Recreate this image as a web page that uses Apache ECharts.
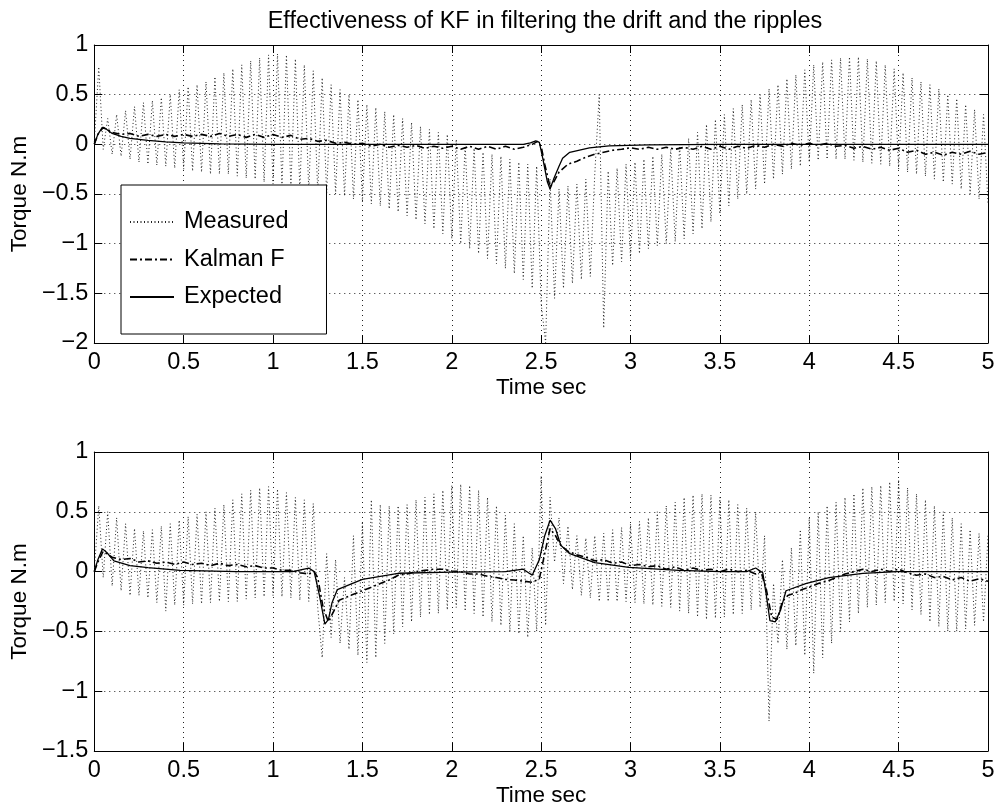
<!DOCTYPE html>
<html>
<head>
<meta charset="utf-8">
<script src="https://cdn.jsdelivr.net/npm/echarts@6/dist/echarts.min.js"></script>
<style>
html,body{margin:0;padding:0;background:#fff;}
#chart{width:998px;height:811px;}
</style>
</head>
<body>
<div id="chart"></div>
<script>
// ---------- data ----------
const titleText = 'Effectiveness of KF in filtering the drift and the ripples';
const seriesNames = ['Measured', 'Kalman F', 'Expected'];
const xTicks = [0, 0.5, 1, 1.5, 2, 2.5, 3, 3.5, 4, 4.5, 5];
const yTicksTop = [-2, -1.5, -1, -0.5, 0, 0.5, 1];
const yTicksBottom = [-1.5, -1, -0.5, 0, 0.5, 1];

// measured torque sampled every 0.025 s (201 samples, 0..5 s)
const measuredStep = 0.025;
const measuredTop = [
  0.02, 0.78, -0.05, 0.26, -0.1, 0.3, -0.12, 0.34, -0.15, 0.38,
  -0.18, 0.42, -0.2, 0.44, -0.21, 0.47, -0.22, 0.5, -0.24, 0.55,
  -0.25, 0.58, -0.27, 0.6, -0.28, 0.63, -0.3, 0.68, -0.3, 0.72,
  -0.3, 0.76, -0.32, 0.8, -0.34, 0.84, -0.35, 0.87, -0.38, 0.9,
  -0.4, 0.91, -0.42, 0.9, -0.44, 0.86, -0.46, 0.8, -0.47, 0.74,
  -0.48, 0.67, -0.5, 0.6, -0.5, 0.55, -0.52, 0.5, -0.55, 0.45,
  -0.58, 0.4, -0.6, 0.37, -0.62, 0.33, -0.65, 0.3, -0.68, 0.26,
  -0.72, 0.22, -0.76, 0.18, -0.8, 0.15, -0.85, 0.12, -0.9, 0.1,
  -0.95, 0.05, -1.0, 0.0, -1.05, -0.04, -1.1, -0.08, -1.15, -0.1,
  -1.2, -0.12, -1.25, -0.15, -1.3, -0.18, -1.36, -0.2, -1.45, -0.22,
  -1.6, -2.0, -0.35, -1.55, -0.45, -1.45, -0.42, -1.4, -0.4, -1.36,
  -0.35, -1.33, -0.3, 0.5, -1.85, -0.27, -1.22, -0.24, -1.18, -0.2,
  -1.15, -0.18, -1.1, -0.15, -1.05, -0.12, -1.02, -0.1, -1.0, -0.05,
  -0.98, 0.0, -0.95, 0.06, -0.9, 0.12, -0.85, 0.2, -0.78, 0.25,
  -0.7, 0.3, -0.62, 0.36, -0.55, 0.4, -0.5, 0.45, -0.45, 0.5,
  -0.4, 0.56, -0.35, 0.6, -0.3, 0.66, -0.25, 0.7, -0.22, 0.75,
  -0.18, 0.8, -0.16, 0.83, -0.15, 0.85, -0.15, 0.87, -0.15, 0.88,
  -0.16, 0.88, -0.18, 0.86, -0.19, 0.84, -0.2, 0.8, -0.22, 0.76,
  -0.25, 0.72, -0.28, 0.67, -0.3, 0.63, -0.32, 0.6, -0.35, 0.56,
  -0.38, 0.5, -0.4, 0.46, -0.45, 0.4, -0.5, 0.35, -0.55, 0.3,
  -0.6
];
const measuredBottom = [
  0.0, 0.55, -0.05, 0.5, -0.12, 0.45, -0.16, 0.4, -0.2, 0.36,
  -0.2, 0.34, -0.22, 0.35, -0.26, 0.38, -0.33, 0.4, -0.28, 0.43,
  -0.28, 0.46, -0.27, 0.48, -0.27, 0.5, -0.26, 0.53, -0.25, 0.56,
  -0.25, 0.6, -0.25, 0.65, -0.23, 0.68, -0.22, 0.7, -0.21, 0.71,
  -0.2, 0.69, -0.21, 0.66, -0.22, 0.62, -0.24, 0.6, -0.25, 0.57,
  -0.3, -0.72, 0.15, -0.55, 0.1, -0.6, -0.05, -0.65, 0.3, -0.7,
  0.42, -0.76, 0.6, -0.72, 0.56, -0.6, 0.55, -0.52, 0.55, -0.46,
  0.56, -0.42, 0.6, -0.38, 0.62, -0.36, 0.65, -0.35, 0.68, -0.32,
  0.72, -0.3, 0.73, -0.33, 0.72, -0.35, 0.68, -0.38, 0.62, -0.42,
  0.55, -0.45, 0.47, -0.5, 0.4, -0.52, 0.3, -0.55, 0.2, -0.5,
  0.8, -0.45, 0.62, 0.08, 0.45, -0.1, 0.38, -0.15, 0.3, -0.2,
  0.28, -0.22, 0.3, -0.25, 0.32, -0.25, 0.35, -0.25, 0.37, -0.25,
  0.4, -0.26, 0.42, -0.27, 0.45, -0.28, 0.5, -0.29, 0.55, -0.3,
  0.58, -0.33, 0.62, -0.35, 0.64, -0.38, 0.65, -0.4, 0.64, -0.39,
  0.62, -0.38, 0.6, -0.36, 0.56, -0.35, 0.53, -0.32, 0.5, -0.3,
  0.3, -1.25, -0.1, -0.6, 0.1, -0.65, 0.2, -0.62, 0.35, -0.7,
  0.45, -0.85, 0.5, -0.72, 0.55, -0.6, 0.58, -0.5, 0.62, -0.42,
  0.65, -0.35, 0.7, -0.3, 0.71, -0.28, 0.72, -0.26, 0.75, -0.25,
  0.77, -0.27, 0.7, -0.32, 0.65, -0.36, 0.6, -0.42, 0.55, -0.46,
  0.5, -0.5, 0.45, -0.5, 0.4, -0.48, 0.35, -0.45, 0.32, -0.42,
  0.3
];

// Kalman filter estimate, top subplot
const kalmanTopT = [0, 0.02, 0.05, 0.08, 0.1, 0.15, 0.2, 0.25, 0.3, 0.35, 0.4, 0.45, 0.5, 0.55, 0.6, 0.65, 0.7, 0.75, 0.8, 0.85, 0.9, 0.95, 1.0, 1.05, 1.1, 1.15, 1.2, 1.25, 1.3, 1.35, 1.4, 1.45, 1.5, 1.55, 1.6, 1.65, 1.7, 1.75, 1.8, 1.85, 1.9, 1.95, 2.0, 2.05, 2.1, 2.15, 2.2, 2.25, 2.3, 2.35, 2.4, 2.45, 2.48, 2.5, 2.52, 2.55, 2.57, 2.6, 2.65, 2.7, 2.75, 2.8, 2.85, 2.9, 2.95, 3.0, 3.05, 3.1, 3.15, 3.2, 3.25, 3.3, 3.35, 3.4, 3.45, 3.5, 3.55, 3.6, 3.65, 3.7, 3.75, 3.8, 3.85, 3.9, 3.95, 4.0, 4.05, 4.1, 4.15, 4.2, 4.25, 4.3, 4.35, 4.4, 4.45, 4.5, 4.55, 4.6, 4.65, 4.7, 4.75, 4.8, 4.85, 4.9, 4.95, 5.0];
const kalmanTopV = [0, 0.1, 0.17, 0.14, 0.12, 0.1, 0.11, 0.08, 0.1, 0.08, 0.1, 0.08, 0.1, 0.08, 0.1, 0.08, 0.11, 0.08, 0.1, 0.07, 0.1, 0.07, 0.1, 0.07, 0.09, 0.05, 0.06, 0.03, 0.04, 0.01, 0.02, 0.0, 0.01, -0.02, 0.0, -0.03, -0.01, -0.03, -0.01, -0.04, -0.02, -0.04, -0.02, -0.05, -0.02, -0.05, -0.02, -0.05, -0.02, -0.05, -0.03, 0.0, 0.03, -0.02, -0.2, -0.43, -0.38, -0.28, -0.2, -0.17, -0.13, -0.1, -0.08, -0.06, -0.05, -0.035, -0.05, -0.03, -0.05, -0.03, -0.05, -0.03, -0.05, -0.02, -0.05, -0.02, -0.05, -0.02, -0.04, -0.01, -0.03, 0.0, -0.02, 0.01, -0.01, 0.01, -0.01, 0.01, -0.02, -0.01, -0.04, -0.02, -0.05, -0.03, -0.06, -0.04, -0.08, -0.06, -0.1, -0.08, -0.11, -0.08, -0.1, -0.07, -0.1, -0.08];

// expected torque, top subplot
const expectedTopT = [0, 0.02, 0.045, 0.07, 0.1, 0.15, 0.2, 0.3, 0.4, 0.5, 0.7, 1.0, 2.4, 2.44, 2.47, 2.49, 2.51, 2.535, 2.55, 2.57, 2.6, 2.62, 2.66, 2.77, 2.88, 3.1, 3.5, 5.0];
const expectedTopV = [0, 0.1, 0.17, 0.15, 0.11, 0.08, 0.06, 0.04, 0.025, 0.015, 0.005, 0, 0, 0.015, 0.035, 0.02, -0.15, -0.38, -0.45, -0.35, -0.22, -0.14, -0.08, -0.035, -0.015, -0.005, 0, 0];

// Kalman filter estimate, bottom subplot
const kalmanBottomT = [0, 0.02, 0.05, 0.08, 0.1, 0.15, 0.2, 0.25, 0.3, 0.35, 0.4, 0.45, 0.5, 0.55, 0.6, 0.65, 0.7, 0.75, 0.8, 0.85, 0.9, 0.95, 1.0, 1.05, 1.1, 1.15, 1.2, 1.23, 1.25, 1.28, 1.31, 1.34, 1.37, 1.4, 1.45, 1.5, 1.55, 1.6, 1.65, 1.7, 1.75, 1.8, 1.85, 1.9, 1.95, 2.0, 2.05, 2.1, 2.15, 2.2, 2.25, 2.3, 2.35, 2.4, 2.45, 2.49, 2.52, 2.55, 2.58, 2.61, 2.65, 2.7, 2.75, 2.8, 2.85, 2.9, 2.95, 3.0, 3.05, 3.1, 3.15, 3.2, 3.25, 3.3, 3.35, 3.4, 3.45, 3.5, 3.55, 3.6, 3.65, 3.7, 3.73, 3.76, 3.79, 3.82, 3.85, 3.88, 3.92, 3.96, 4.0, 4.05, 4.1, 4.15, 4.2, 4.25, 4.3, 4.35, 4.4, 4.45, 4.5, 4.55, 4.6, 4.65, 4.7, 4.75, 4.8, 4.85, 4.9, 4.95, 5.0];
const kalmanBottomV = [0, 0.08, 0.17, 0.14, 0.12, 0.1, 0.11, 0.08, 0.09, 0.07, 0.08, 0.06, 0.08, 0.06, 0.07, 0.05, 0.07, 0.05, 0.06, 0.04, 0.05, 0.03, 0.03, 0.01, 0.01, -0.01, -0.02, 0.0, -0.05, -0.3, -0.42, -0.33, -0.24, -0.22, -0.19, -0.16, -0.13, -0.1, -0.07, -0.03, -0.02, 0.0, 0.01, 0.02, 0.02, 0.005, 0.0, -0.02, -0.02, -0.04, -0.05, -0.065, -0.07, -0.08, -0.09, -0.06, 0.15, 0.36, 0.3, 0.22, 0.17, 0.14, 0.12, 0.09, 0.1, 0.07, 0.08, 0.05, 0.06, 0.04, 0.05, 0.02, 0.04, 0.01, 0.03, 0.01, 0.02, 0.0, 0.02, 0.0, 0.01, -0.02, 0.0, -0.15, -0.38, -0.4, -0.25, -0.2, -0.18, -0.15, -0.13, -0.1, -0.08, -0.05, -0.02, 0.0, 0.02, 0.0, 0.02, 0.0, 0.02, -0.01, -0.03, -0.02, -0.05, -0.04, -0.07, -0.05, -0.08, -0.06, -0.08];

// expected torque, bottom subplot
const expectedBottomT = [0, 0.02, 0.046, 0.07, 0.11, 0.2, 0.3, 0.48, 0.8, 1.11, 1.2, 1.23, 1.26, 1.29, 1.31, 1.33, 1.36, 1.5, 1.7, 2.0, 2.3, 2.4, 2.45, 2.49, 2.52, 2.55, 2.58, 2.61, 2.66, 2.8, 2.99, 3.27, 3.5, 3.65, 3.7, 3.74, 3.76, 3.78, 3.81, 3.84, 3.87, 3.98, 4.11, 4.3, 4.49, 5.0];
const expectedBottomV = [0, 0.1, 0.19, 0.16, 0.09, 0.05, 0.034, 0.01, 0, 0, 0.03, 0.0, -0.2, -0.44, -0.4, -0.26, -0.15, -0.065, -0.014, -0.005, 0, 0.02, -0.03, 0.1, 0.3, 0.43, 0.36, 0.22, 0.15, 0.075, 0.035, 0.01, 0, 0, 0.03, -0.01, -0.2, -0.41, -0.42, -0.32, -0.16, -0.1, -0.05, -0.014, 0, 0];

// ---------- chart ----------
const FONT = "'Liberation Sans', Arial, Helvetica, sans-serif";
const FS = 23.5;
const FS_NAME = 22.5;
const pair = (ts, vs) => ts.map((t, i) => [t, vs[i]]);
const sampled = (vs) => vs.map((v, i) => [+(i * measuredStep).toFixed(4), v]);
const minusFmt = v => String(v).replace('-', '\u2212');

const grids = [
  { left: 93, top: 45, width: 895, height: 298 },
  { left: 93, top: 452, width: 895, height: 299 }
];

function xAxes(gi) {
  return [
    {
      gridIndex: gi, type: 'value', min: 0, max: 5, interval: 0.5, position: 'bottom',
      name: 'Time sec', nameLocation: 'middle', nameGap: 31,
      nameTextStyle: { fontSize: FS_NAME, color: '#000', fontFamily: FONT },
      axisLine: { show: true, onZero: false, lineStyle: { color: '#000', width: 1 } },
      axisTick: { show: true, inside: true, length: 8, lineStyle: { color: '#000' } },
      axisLabel: { fontSize: FS, color: '#000', fontFamily: FONT, margin: 8, formatter: minusFmt },
      splitLine: { show: true, lineStyle: { color: '#222', width: 1, type: [1, 4] } }
    },
    {
      gridIndex: gi, type: 'value', min: 0, max: 5, interval: 0.5, position: 'top',
      axisLine: { show: true, onZero: false, lineStyle: { color: '#000', width: 1 } },
      axisTick: { show: true, inside: true, length: 8, lineStyle: { color: '#000' } },
      axisLabel: { show: false }, splitLine: { show: false }
    }
  ];
}
function yAxes(gi, mn, mx) {
  return [
    {
      gridIndex: gi, type: 'value', min: mn, max: mx, interval: 0.5, position: 'left',
      name: 'Torque N.m', nameLocation: 'middle', nameGap: 58,
      nameTextStyle: { fontSize: FS_NAME, color: '#000', fontFamily: FONT },
      axisLine: { show: true, onZero: false, lineStyle: { color: '#000', width: 1 } },
      axisTick: { show: true, inside: true, length: 8, lineStyle: { color: '#000' } },
      axisLabel: { fontSize: FS, color: '#000', fontFamily: FONT, margin: 6, formatter: minusFmt },
      splitLine: { show: true, lineStyle: { color: '#222', width: 1, type: [1, 4] } }
    },
    {
      gridIndex: gi, type: 'value', min: mn, max: mx, interval: 0.5, position: 'right',
      axisLine: { show: true, onZero: false, lineStyle: { color: '#000', width: 1 } },
      axisTick: { show: true, inside: true, length: 8, lineStyle: { color: '#000' } },
      axisLabel: { show: false }, splitLine: { show: false }
    }
  ];
}

function seriesFor(gi, meas, kT, kV, eT, eV) {
  const xi = gi * 2, yi = gi * 2;
  return [
    {
      name: seriesNames[0], type: 'line', xAxisIndex: xi, yAxisIndex: yi, symbol: 'none',
      data: sampled(meas), z: 2, color: '#222', itemStyle: { color: '#222' },
      lineStyle: { color: '#222', width: 1, type: [1, 2.5] }
    },
    {
      name: seriesNames[1], type: 'line', xAxisIndex: xi, yAxisIndex: yi, symbol: 'none',
      data: pair(kT, kV), z: 3, color: '#000', itemStyle: { color: '#000' },
      lineStyle: { color: '#000', width: 1.6, type: [7, 3, 2, 3] }
    },
    {
      name: seriesNames[2], type: 'line', xAxisIndex: xi, yAxisIndex: yi, symbol: 'none',
      data: pair(eT, eV), z: 4, color: '#000', itemStyle: { color: '#000' },
      lineStyle: { color: '#000', width: 1.3, type: 'solid' }
    }
  ];
}

const chart = echarts.init(document.getElementById('chart'), null, { renderer: 'canvas' });
chart.setOption({
  animation: false,
  backgroundColor: '#fff',
  textStyle: { fontFamily: FONT },
  title: {
    text: titleText, left: 540, top: 5, textAlign: 'center',
    textStyle: { fontSize: FS, fontWeight: 'normal', color: '#000', fontFamily: FONT }
  },
  legend: {
    data: seriesNames, orient: 'vertical', left: 121, top: 185,
    itemWidth: 44, itemHeight: 24, itemGap: 13.5,
    padding: [25, 38, 25, 8],
    backgroundColor: '#fff', borderColor: '#000', borderWidth: 1,
    itemStyle: { opacity: 0 },
    textStyle: { fontSize: FS, color: '#000', fontFamily: FONT, lineHeight: 24, padding: [0, 0, 0, 5] },
    selectedMode: false
  },
  grid: grids,
  xAxis: [...xAxes(0), ...xAxes(1)],
  yAxis: [...yAxes(0, -2, 1), ...yAxes(1, -1.5, 1)],
  series: [
    ...seriesFor(0, measuredTop, kalmanTopT, kalmanTopV, expectedTopT, expectedTopV),
    ...seriesFor(1, measuredBottom, kalmanBottomT, kalmanBottomV, expectedBottomT, expectedBottomV)
  ]
});
</script>
</body>
</html>
